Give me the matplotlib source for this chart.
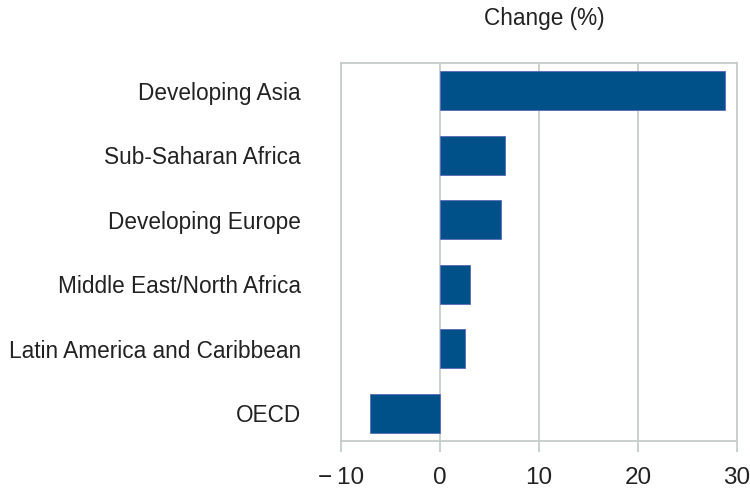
import matplotlib
matplotlib.use("Agg")
import matplotlib.pyplot as plt

categories = ["Developing Asia", "Sub-Saharan Africa", "Developing Europe",
              "Middle East/North Africa", "Latin America and Caribbean", "OECD"]
values = [28.8, 6.6, 6.2, 3.0, 2.5, -7.1]
xticks = [-10, 0, 10, 20, 30]
xticklabels = ["\u2212\u200910", "0", "10", "20", "30"]
title = "Change (%)"

plt.rcParams['font.family'] = ['Liberation Sans', 'DejaVu Sans']

fig = plt.figure(figsize=(7.5, 4.93), dpi=100)
ax = fig.add_axes([341/750, 1 - 441/493, (737-341)/750, (441-63)/493])

ypos = list(range(len(categories)))
ax.barh(ypos, values, height=0.6, color="#00508A", edgecolor="#5a6ab8",
        linewidth=0.6, zorder=3)
ax.set_ylim(len(categories) - 1 + 0.43, -0.43)
ax.set_xlim(-10, 30)
ax.set_yticks(ypos)
ax.set_yticklabels(categories, fontsize=16.3, color="#222222")
ax.set_xticks(xticks)
ax.set_xticklabels(xticklabels, fontsize=17.5, color="#222222")

gridc = "#c5ceca"
ax.grid(axis="x", color=gridc, linewidth=1.3, zorder=0)
for s in ax.spines.values():
    s.set_color(gridc)
    s.set_linewidth(1.3)
ax.tick_params(axis="y", length=0, pad=29)
ax.tick_params(axis="x", length=8, width=1.3, color=gridc, pad=10.5)
fig.text(544/750, 1 - 18/493, title, fontsize=16.3, color="#222222",
         ha="center", va="center")

fig.savefig("out.png", dpi=100)
